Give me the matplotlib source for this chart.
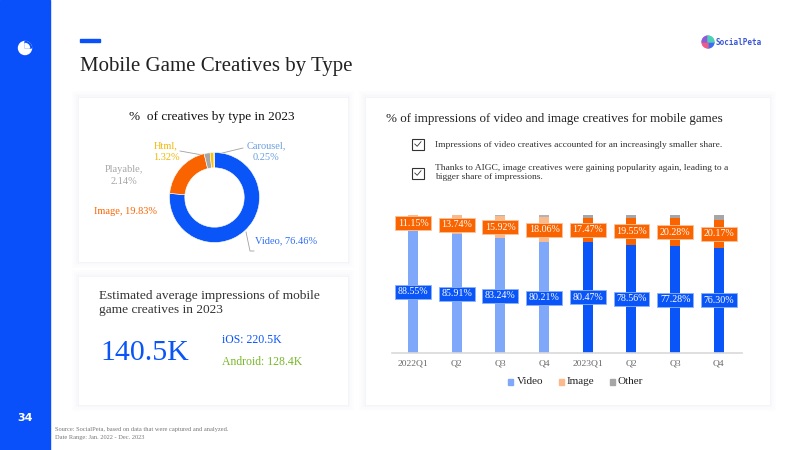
import numpy as np
import matplotlib.pyplot as plt
from matplotlib.patches import Rectangle, Circle, Wedge
from matplotlib.lines import Line2D

plt.rcParams['font.family'] = ['Liberation Serif', 'DejaVu Serif']

# donut data
pie_labels = ['Video', 'Image', 'Playable', 'Html', 'Carousel']
pie_values = [76.46, 19.83, 2.14, 1.32, 0.25]
pie_colors = ['#0A55F7', '#FA6400', '#A6A6A6', '#FFC000', '#5B9BD5']

# stacked bars data
quarters = ['2022Q1', 'Q2', 'Q3', 'Q4', '2023Q1', 'Q2', 'Q3', 'Q4']
video = [88.55, 85.91, 83.24, 80.21, 80.47, 78.56, 77.28, 76.30]
image = [11.15, 13.74, 15.92, 18.06, 17.47, 19.55, 20.28, 20.17]
other = [0.30, 0.35, 0.84, 1.73, 2.06, 1.89, 2.44, 3.53]

BLUE = '#0A55F7'
ORANGE = '#FA6400'

fig = plt.figure(figsize=(8, 4.5), dpi=100)
fig.patch.set_facecolor('white')

# page layer in pixel coords
page = fig.add_axes([0, 0, 1, 1])
page.set_xlim(0, 800)
page.set_ylim(450, 0)
page.axis('off')

# sidebar
page.add_patch(Rectangle((0, 0), 50, 450, color='#0A50FA', zorder=1))
page.add_patch(Circle((25, 48), 6.5, color='white', zorder=2))
page.add_patch(Wedge((25, 48), 6.5, 270, 360, color='#0A50FA', zorder=3))
page.add_patch(Wedge((25, 48), 4.5, 270, 360, color='white', zorder=4))
page.text(25, 418, '34', color='white', fontsize=8, fontweight='bold',
          family='DejaVu Sans', ha='center', va='center', zorder=5)

# title
page.add_patch(Rectangle((80, 39), 20, 3, color='#0A50FA'))
page.text(80, 67, 'Mobile Game Creatives by Type', fontsize=15, color='#222222',
          ha='left', va='center')

# logo
lx, ly = 708, 42
for k, c in enumerate(['#3D6CF0', '#EE5A8A', '#8E5BD8', '#4DD0B8']):
    page.add_patch(Wedge((lx, ly), 6, 90 * k, 90 * (k + 1), color=c, zorder=3))
page.text(716, 42.5, 'SocialPeta', fontsize=5.5, fontweight='bold', color='#3A56D8',
          family='DejaVu Sans Mono', ha='left', va='center')


def card(x, y, w, h):
    for k, a in [(6, 0.015), (4, 0.02), (2, 0.03)]:
        page.add_patch(Rectangle((x - k, y - k), w + 2 * k, h + 2 * k,
                                 facecolor='#AEB8D8', edgecolor='none', alpha=a, zorder=1))
    page.add_patch(Rectangle((x, y), w, h, facecolor='white', edgecolor='#F2F4F8',
                             lw=0.6, zorder=2))


card(78, 97, 270, 165)
card(78, 276, 270, 129)
card(365, 97, 405, 308)

# left top card
page.text(212, 117, '%  of creatives by type in 2023', fontsize=9.5, color='#111111',
          ha='center', va='center', zorder=5)

pie_ax = fig.add_axes([(214.5 - 45) / 800, 1 - (197.5 + 45) / 450, 90 / 800, 90 / 450])
pie_ax.pie(pie_values, colors=pie_colors, startangle=90, counterclock=False,
           wedgeprops=dict(width=0.34, edgecolor='white', linewidth=0.4))
pie_ax.set_xlim(-1, 1)
pie_ax.set_ylim(-1, 1)
pie_ax.set_aspect('equal')
pie_ax.axis('off')

lab_kw = dict(fontsize=7.5, ha='center', va='center', zorder=5, linespacing=1.4)
page.text(166, 151.5, 'Html,\n1.32%', color='#F2B705', **lab_kw)
page.text(266, 151.5, 'Carousel,\n0.25%', color='#6A9FE0', **lab_kw)
page.text(124, 175.5, 'Playable,\n2.14%', color='#A6A6A6', **lab_kw)
page.text(126, 212, 'Image, 19.83%', color=ORANGE, **lab_kw)
page.text(286, 241, 'Video, 76.46%', color='#2F6DF5', **lab_kw)
page.add_line(Line2D([180, 208], [151, 156], color='#A0A0A0', lw=0.6, zorder=6))
page.add_line(Line2D([214, 243], [155, 148], color='#A0A0A0', lw=0.6, zorder=6))
page.add_line(Line2D([246, 250, 254], [232, 251, 251], color='#A0A0A0', lw=0.6, zorder=6))

# left bottom card
page.text(99, 303, 'Estimated average impressions of mobile\ngame creatives in 2023',
          fontsize=9.6, color='#333333', ha='left', va='center', linespacing=1.15, zorder=5)
page.text(100, 353, '140.5K', fontsize=21.5, color='#0A55F7', ha='left', va='center', zorder=5)
page.text(222, 340, 'iOS: 220.5K', fontsize=8.5, color='#0A55F7', ha='left', va='center', zorder=5)
page.text(222, 362, 'Android: 128.4K', fontsize=8.5, color='#78B82A', ha='left', va='center', zorder=5)

# right card header
page.text(386, 119, '% of impressions of video and image creatives for mobile games',
          fontsize=9.4, color='#222222', ha='left', va='center', zorder=5)
for by in [144, 173]:
    page.add_patch(Rectangle((412, by - 5.5), 11.5, 11, facecolor='white', edgecolor='#333333',
                             lw=0.8, zorder=5))
    page.add_line(Line2D([414.8, 417.2, 421], [by, by + 2.3, by - 2.3], color='#333333',
                         lw=0.6, zorder=6))
page.text(435, 145, 'Impressions of video creatives accounted for an increasingly smaller share.',
          fontsize=6.8, color='#333333', ha='left', va='center', zorder=5)
page.text(435, 172.5, 'Thanks to AIGC, image creatives were gaining popularity again, leading to a\n'
          'bigger share of impressions.', fontsize=6.8, color='#333333', ha='left', va='center',
          linespacing=1.15, zorder=5)

# footer
page.text(55, 429, 'Source: SocialPeta, based on data that were captured and analyzed.',
          fontsize=4.6, color='#777777', ha='left', va='center', zorder=5)
page.text(55, 437, 'Date Range: Jan. 2022 - Dec. 2023', fontsize=4.6, color='#777777',
          ha='left', va='center', zorder=5)

# stacked bar chart
ax = fig.add_axes([392 / 800, 1 - 353 / 450, 350 / 800, 138 / 450])
ax.patch.set_alpha(0)
x = np.arange(len(quarters))
light = ['#80A8FA', '#FBBA8C', '#B3B3B3']
dark = [BLUE, ORANGE, '#A6A6A6']
for i in range(len(quarters)):
    cols = light if i < 4 else dark
    ax.bar(x[i], video[i], width=0.23, color=cols[0], zorder=2)
    ax.bar(x[i], image[i], bottom=video[i], width=0.23, color=cols[1], zorder=2)
    ax.bar(x[i], other[i], bottom=video[i] + image[i], width=0.23, color=cols[2], zorder=2)
    ax.text(x[i], video[i] / 2, f'{video[i]:.2f}%', fontsize=7.2, color='white',
            ha='center', va='center', zorder=4,
            bbox=dict(boxstyle='square,pad=0.25', facecolor=BLUE, edgecolor='#8DB2FB', lw=0.6))
    ax.text(x[i], video[i] + image[i] / 2, f'{image[i]:.2f}%', fontsize=7.2, color='white',
            ha='center', va='center', zorder=4,
            bbox=dict(boxstyle='square,pad=0.25', facecolor=ORANGE, edgecolor='#FCC29A', lw=0.6))
ax.set_xlim(-0.48, 7.53)
ax.set_ylim(0, 100)
ax.set_xticks(x)
ax.set_xticklabels(quarters, fontsize=6.8, color='#666666')
ax.tick_params(axis='x', length=0, pad=5)
ax.set_yticks([])
for s in ['top', 'right', 'left']:
    ax.spines[s].set_visible(False)
ax.spines['bottom'].set_color('#D9D9D9')
ax.spines['bottom'].set_linewidth(1.2)

# legend
for mx, tx, name, c in [(508, 517, 'Video', '#80A8FA'), (559, 567, 'Image', '#FBBA8C'),
                        (610, 617, 'Other', '#A6A6A6')]:
    page.add_patch(Rectangle((mx, 379), 5, 5.5, color=c, zorder=5))
    page.text(tx, 381.5, name, fontsize=8, color='#222222', ha='left', va='center', zorder=5)

fig.savefig('out.png', dpi=100)
